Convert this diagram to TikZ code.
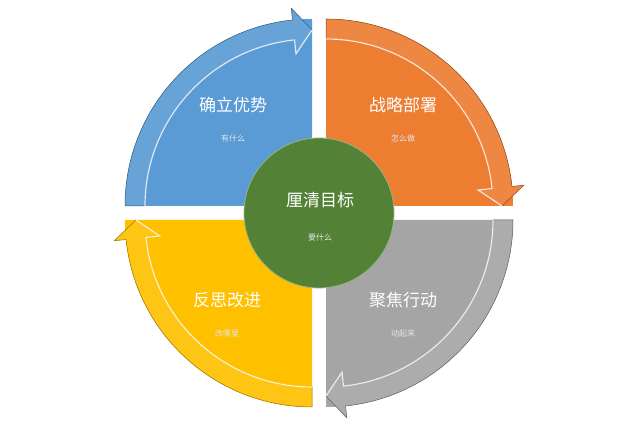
\documentclass[tikz,border=0pt]{standalone}
\usepackage{fontspec}
\setmainfont{Noto Sans CJK SC}
\begin{document}
\begin{tikzpicture}[x=1pt,y=1pt]
\definecolor{qblue}{HTML}{5B9BD5}
\definecolor{qorange}{HTML}{ED7D31}
\definecolor{qgray}{HTML}{A5A5A5}
\definecolor{qyellow}{HTML}{FFC000}
\definecolor{qgreen}{HTML}{538135}
\tikzset{title/.style={text=white,font=\fontsize{17}{19}\selectfont},
 sub/.style={text=white!90!black,font=\fontsize{8}{10}\selectfont}}
\useasboundingbox (0,0) rectangle (640,427);
\newcommand{\quadr}[4]{% corner, start angle, fill color, name
 \begin{scope}[shift={#1}]
  \pgfmathsetmacro{\ea}{#2-90}\pgfmathsetmacro{\ba}{#2-84}
  \fill[#3] (0,0) -- (#2:187) arc[start angle=#2,end angle=\ea,radius=187] -- cycle;
  \draw[fill=#3!92!white,draw=#3!60!black,line width=0.5pt]
   (#2:187) arc[start angle=#2,end angle=\ba,radius=187]
   -- (\ba:199) -- (\ea:176) -- (\ba:153) -- (\ba:167)
   arc[start angle=\ba,end angle=#2,radius=167] -- cycle;
  \draw[white!80!#3,line width=1.2pt] (#2:167) arc[start angle=#2,end angle=\ba,radius=167] -- (\ba:153) -- (\ea:176);
  \coordinate (#4) at (0,0);
 \end{scope}}
\quadr{(312,221)}{180}{qblue}{qb}
\quadr{(326,221)}{90}{qorange}{qo}
\quadr{(326,207)}{0}{qgray}{qg}
\quadr{(312,207)}{270}{qyellow}{qy}
\node[circle,fill=qgreen,draw=qgreen!60!white,line width=0.8pt,minimum size=150pt] (c) at (319,214) {};
\node[title] (t1) at (233,322) {确立优势};
\node[sub] (s1) at (233,289) {有什么};
\node[title] (t2) at (403,322) {战略部署};
\node[sub] (s2) at (403,289) {怎么做};
\node[title] (t3) at (403,127) {聚焦行动};
\node[sub] (s3) at (403,94) {动起来};
\node[title] (t4) at (227,127) {反思改进};
\node[sub] (s4) at (227,94) {改哪里};
\node[title] (t0) at (320,227) {厘清目标};
\node[sub] (s0) at (320,190) {要什么};
\end{tikzpicture}
\end{document}
